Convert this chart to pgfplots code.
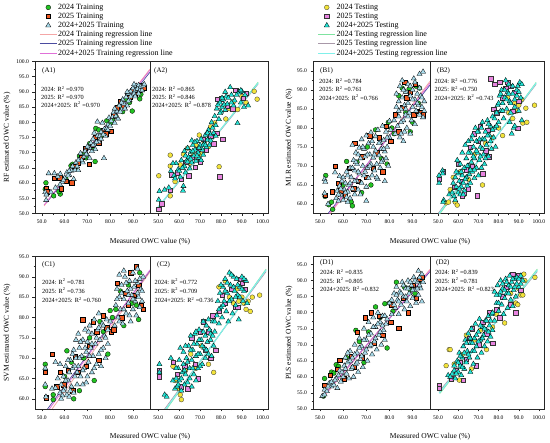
\documentclass[border=0pt]{standalone}
\usepackage{fontspec}
\setmainfont{Liberation Serif}
\usepackage{pgfplots}
\pgfplotsset{compat=1.18}
\definecolor{cG}{HTML}{22C322}
\definecolor{cO}{HTML}{F05A23}
\definecolor{cB}{HTML}{A8DAEA}
\definecolor{cY}{HTML}{F2E33A}
\definecolor{cP}{HTML}{E884E0}
\definecolor{cC}{HTML}{22E2D4}
\definecolor{lTa}{HTML}{F4A6A6}
\definecolor{lTb}{HTML}{4B4BA0}
\definecolor{lTc}{HTML}{E070D8}
\definecolor{lEa}{HTML}{7FE3A0}
\definecolor{lEb}{HTML}{A898A8}
\definecolor{lEc}{HTML}{80F0EA}
\newcommand\rt{\fontsize{6.3}{7}\selectfont}
\newcommand\pl{\fontsize{7}{8}\selectfont}
\newcommand\lb{\fontsize{7.5}{8}\selectfont}
\pgfplotsset{
 half/.style={scale only axis, tick align=outside, xtick pos=left, ytick pos=left,
  major tick length=2.5pt, minor tick length=1.3pt,
  axis line style={line width=0.5pt, black!85}, tick style={black!85, line width=0.4pt},
  tick label style={font=\fontsize{5.6}{6}\selectfont},
  /pgf/number format/fixed, /pgf/number format/fixed zerofill, /pgf/number format/precision=1,
  /pgf/number format/assume math mode=true,
  minor y tick num=1, xticklabel style={yshift=-0.5pt}},
 lhalf/.style={half, xmin=47, xmax=97.5, xtick={50,60,70,80,90}, minor xtick={55,65,75,85,95}},
 rhalf/.style={half, xmin=46, xmax=102.5, xtick={50,60,70,80,90,100}, minor xtick={55,65,75,85,95}, ytick=\empty, minor ytick={}},
 c24/.style={only marks, mark=*, mark size=2.4pt, mark options={fill=cG, draw=black, line width=0.3pt}},
 s25/.style={only marks, mark=square*, mark size=2.2pt, mark options={fill=cO, draw=black, line width=0.3pt}},
 tAll/.style={only marks, mark=triangle*, mark size=3.0pt, mark options={fill=cB, draw=black, line width=0.3pt}},
 c24e/.style={only marks, mark=*, mark size=2.4pt, mark options={fill=cY, draw=black!80, line width=0.3pt}},
 s25e/.style={only marks, mark=square*, mark size=2.2pt, mark options={fill=cP, draw=black!80, line width=0.3pt}},
 tAlle/.style={only marks, mark=triangle*, mark size=3.0pt, mark options={fill=cC, draw=black, line width=0.3pt}},
 la/.style={no marks, lTa, line width=0.8pt},
 lb/.style={no marks, lTb, line width=0.7pt},
 lc/.style={no marks, lTc, line width=0.8pt},
 lea/.style={no marks, lEa, line width=0.8pt},
 leb/.style={no marks, lEb, line width=0.7pt},
 lec/.style={no marks, lEc, line width=1.1pt},
 leg/.style={legend cell align=left, legend style={draw=none, fill=none, anchor=north west,
   font=\fontsize{8}{9}\selectfont, nodes={inner sep=0.8pt}, row sep=0.6pt}},
}
\begin{document}
\begin{tikzpicture}
\path[use as bounding box] (0,0) rectangle (550pt,443pt);
%%%%%%%%%%%%%%%% A1
\begin{axis}[lhalf, leg, legend style={at={(0.01,1.398)}}, at={(35pt,229.5pt)}, anchor=south west, width=115pt, height=152pt,
 ymin=50, ymax=100, ytick={50,55,...,100}]
\addplot[c24] coordinates {(51.8,60.1) (51.5,58.0) (55.2,55.8) (58.1,56.4) (57.5,57.2) (60.5,61.5) (62.8,65.7) (63.5,66.2) (65,64.8) (66.5,68.9) (68,69.5) (69.5,68.3) (71,73) (72.5,71.5) (73.4,67.1) (73.7,78.0) (75,77.5) (76,75.5) (78.5,80.5) (80.3,79.9) (81,80.8) (82.5,82) (84,85.2) (85.5,83.5) (87,87.5) (88.5,86.5) (89.7,83.7) (90.5,90.2) (92,91.2) (93,87.7) (93.5,89.2) (94.5,91.5)};
\addlegendentry{2024 Training}
\addplot[s25] coordinates {(51.9,58.3) (52.3,57.2) (55.5,61.6) (58.6,58.2) (57.8,61.8) (60.5,60.6) (63.1,60.1) (64,65.5) (66,66.5) (67.5,68.5) (69,71.5) (70.8,66.3) (72,72.5) (73.5,75.2) (75,73.3) (77,77.5) (78,76.2) (80.5,77.0) (81.5,82.3) (83,84.8) (84.5,86.8) (86,85.3) (87.5,89) (88.5,88.2) (90,91) (91,89.3) (92.5,90.6) (93.8,92) (95,91.2)};
\addlegendentry{2025 Training}
\addplot[tAll] coordinates {(51.5,57) (51.9,54.4) (52,56.2) (53,63.2) (55.5,63.2) (57,62.2) (58.1,63) (59,60.3) (60,61.8) (61,63.5) (62,62.7) (63,64.1) (64.6,64.3) (65,66.8) (66,64.2) (66.5,67.5) (67,69.8) (68,66.8) (68.5,68.7) (69,70.5) (70,69.3) (70.5,71.8) (71,68.2) (71.5,73.2) (72,70.5) (72.5,74.5) (73,72.8) (73.5,71.1) (74.4,80.2) (74.5,75.6) (75,73.6) (76,76.8) (76.6,79.8) (77.3,68.2) (77.5,77.8) (78,75.5) (79,79.2) (79.5,81.5) (80,78.8) (81,81.7) (81.5,83.3) (82,79.8) (83,83.6) (83.5,81.2) (84,85.5) (85,84.2) (85.5,87.5) (86,86.1) (87,88.3) (87.5,85.5) (88,89.5) (88.5,87.3) (89,90.2) (89.5,88.6) (90,91.2) (90.5,89.5) (91,90.5) (91.5,92) (92,91) (92.5,92.2) (93,90.5) (93.5,91.8) (94.5,92.1) (62,64) (64,61.3)};
\addlegendentry{2024+2025 Training}
\addplot[tAll, forget plot] coordinates {(54,57) (56,58.5) (58,59.5) (59.5,61) (61.5,62.5) (63.5,65.5) (65.5,65.5) (67.5,67.5) (69.5,69.5) (71,71.5) (72.5,72.5) (74,73.5) (75.5,75.5) (77,76) (78.5,78) (80.5,80.5) (82.5,82) (84.5,83.5) (86.5,84.5) (88,87) (89,88.5) (91,88.5) (92.5,89.5) (94,90.5) (95,92.5) (66,67.5) (70,72) (73,76.5) (76,74.5) (79,77.5) (82,84.5) (85,86.5) (87.5,90) (90.5,92.5)};
\addplot[la] coordinates {(51,52.5) (97.5,97.5)};
\addlegendentry{2024 Training regression line}
\addplot[lb] coordinates {(52,53.5) (97.5,96.5)};
\addlegendentry{2025 Training regression line}
\addplot[lc] coordinates {(51,52.8) (97.5,97.2)};
\addlegendentry{2024+2025 Training regression line}
\end{axis}
%%%%%%%%%%%%%%%% A2
\begin{axis}[rhalf, at={(150pt,229.5pt)}, anchor=south west, width=118pt, height=152pt, ymin=50, ymax=100]
\addplot[c24e] coordinates {(50.2,62.4) (55.7,69.2) (55.7,65.6) (55.7,55.8) (58,60.5) (60.5,66) (62,69.5) (64,71.5) (65,66.5) (66.5,70) (68,72.5) (69.6,75.8) (70.5,69.5) (72,73.5) (74,72) (75,78.5) (77,79.8) (79.1,65.4) (82.3,81.1) (84,84.5) (86,86.8) (88,84.2) (90,88.5) (92,86.5) (95.9,90.2) (97.3,87.6)};
\addplot[s25e] coordinates {(50.2,51.5) (51.5,53.2) (55.7,57.6) (56,62.8) (59,63.5) (61,61.2) (63,66.8) (64.5,62.5) (66,68.5) (67.5,65.3) (69,71.2) (70,67) (71.5,74.5) (73,70.8) (75,75.5) (76.5,73) (78,76.5) (79.4,62.1) (80.7,74.4) (78.3,87.7) (80,87.8) (83,85.5) (85.5,84.5) (87,90.5) (89,90.3) (90.5,88) (92,89.5)};
\addplot[tAlle] coordinates {(50.2,54.5) (50.5,57.3) (53,57.8) (55,58.5) (56,64) (57.5,62.5) (58.5,66.5) (59.5,64.5) (60.5,62) (61.8,57.5) (62,59) (61,67.5) (62.5,65.5) (63,69) (63.5,67.3) (64,71.5) (64.5,68.5) (65,64.8) (65.5,70.2) (66,66.8) (66.5,72.5) (67,69) (67.5,71) (68,67.2) (68.5,73.8) (69,70) (69.5,68.3) (70,72.5) (70.5,74.5) (71,71) (71.5,69.3) (72,73) (72.5,75.8) (73,71.8) (73.5,74.2) (74,77.5) (74.5,72.5) (75,76) (75.5,80) (76,78.2) (77,82) (77.5,79) (78,84.5) (78.5,85.8) (79,81) (79.5,86.5) (80,83.5) (80.5,85) (81,87.5) (81.5,85.8) (82,84) (82.5,88.5) (83,86) (84.4,91.5) (85,89) (86,85.5) (86.5,87.2) (87.9,79.7) (88.5,89.8) (89.5,86.5) (91,85) (90,90.2) (93,85.5)};
\addplot[tAlle] coordinates {(60,64) (61.5,65) (63,63.5) (64,67) (65.5,68) (66.5,70.5) (67.5,73.5) (68.5,69) (69.5,71.5) (70.5,67.5) (71.5,72.5) (72.5,72.5) (73.5,76.5) (75,74) (76.5,76.5) (77.5,75.5) (79.5,83) (80.5,88) (82,90) (83.5,88) (85,86.5) (87.5,89) (89.5,90.5) (91.5,89) (66,74) (62.5,70.5) (58,61.5) (57,66.5)};
\addplot[lea] coordinates {(49.5,51.6) (97.8,93.2)};
\addplot[leb] coordinates {(49,51.2) (97.8,92.6)};
\addplot[lec] coordinates {(49,51.4) (97.8,92.9)};
\end{axis}
%%%%%%%%%%%%%%%% B1
\begin{axis}[lhalf, at={(313pt,229.5pt)}, anchor=south west, width=117pt, height=152pt,
 ymin=57.5, ymax=97.5, ytick={60,65,...,95}]
\addplot[c24] coordinates {(52.5,67.5) (52.2,62) (53.8,59.8) (55,60.5) (55.5,58.6) (61.5,71.2) (63.5,60.5) (64,59.5) (60,65) (66,71) (68,63) (70.5,75) (72,65) (74,79.5) (76.5,72) (79,70.5) (79.5,81.5) (81,80) (82,78.5) (84,88.5) (85.5,90.5) (87,84) (88.5,90.3) (89,79) (90,81.5) (91.5,91) (92.5,86.5) (93,90.5)};
\addplot[s25] coordinates {(52.3,62.4) (56.5,70) (55.2,63.3) (58,65.5) (59,63.5) (61,62.5) (62.5,69.5) (64.5,64) (65,76) (66.5,66) (68,72.5) (70,67) (71.5,78) (73,69.5) (74.5,73.5) (75.5,77.5) (77,68.5) (78.5,80.5) (80.5,76.5) (82.5,83.5) (84,79) (85.5,85.5) (86.5,92) (87.5,88) (89,89.5) (90.5,83.5) (91,91.5) (92,84.5) (93.5,84) (94.5,83.5)};
\addplot[tAll] coordinates {(57,61.5) (57.5,63.5) (58,60.8) (58.5,64.8) (59,62.3) (59.5,66) (60,61) (60.5,63.8) (61,65.5) (61.5,61.8) (62,67.5) (62,63.2) (62.5,65) (63,61.5) (63,69.5) (63.5,67) (64,64) (64,75.5) (64.5,71.5) (65,62.5) (65,68.8) (65.5,73.5) (66,66) (66,70.5) (66.5,63.8) (67,74.8) (67,68) (67.5,72) (68,65.5) (68,77) (68.5,70) (69,67.5) (69,74.5) (69.5,72.5) (70,64.5) (70,78) (70.5,69.5) (71,76) (71,66.8) (71.5,73) (72,70.5) (72,78.8) (72.5,67.5) (73,75) (73,72.2) (73.5,68.8) (74,77.8) (74,74) (74.5,70.5) (75,79.5) (75,66.5) (75.5,72.8) (76,76.2) (76,69.5) (76.5,74.5) (77,80.5) (77,71.5) (77.5,76.8) (78,66) (78,73.8) (78.5,79) (79,75) (79.5,70) (80,77.5) (80,81.8) (82,82) (82.5,78.5) (83,85.5) (83,89) (83.5,80.5) (84,87) (84,83) (84.5,91) (85,78.5) (85,85) (85.5,92.5) (85.5,88) (86,82) (86,76.5) (86.5,86) (87,89.5) (87,83.5) (87.5,80) (88,91.5) (88,86.5) (88.5,84) (89,78.5) (89,88.5) (89.5,82) (90,90) (90,85.5) (90.5,93) (91,87.5) (91,81) (91.5,84.5) (92,89) (92.5,86) (93,83.5) (93,94.2) (93.5,88.5) (94,85.5) (94.5,94.8) (94.5,82.8) (95,87) (52,66.5) (52.3,65.8) (52,62.8) (56.5,68.3) (58.5,67.3) (53.5,60)};
\addplot[tAll] coordinates {(58,62.5) (59,64) (60,67) (61,63) (62,60.5) (63,65.5) (64,69.5) (65,66) (65.5,71) (66.5,68.5) (67.5,62.5) (68.5,75) (69.5,68.5) (70.5,73) (71.5,70) (72.5,76.5) (73.5,73) (74.5,67) (75.5,76) (76.5,71) (77.5,74.5) (78.5,72) (79,77.5) (80.5,79.5) (84,84.5) (85,81.5) (86,90) (87,85) (88,83) (89,91) (90,87.5) (91,92) (92,86.5) (93,90.5) (94,88) (95,84.5) (86.5,79) (84.5,77.5) (61.5,68.5) (66.5,73) (70,60.8)};
\addplot[la] coordinates {(54.5,57.5) (97.5,92.3)};
\addplot[lb] coordinates {(53.5,57.5) (97.5,91.3)};
\addplot[lc] coordinates {(54,57.5) (97.5,91.8)};
\end{axis}
%%%%%%%%%%%%%%%% B2
\begin{axis}[rhalf, leg, legend style={at={(-1.013,1.398)}}, at={(430pt,229.5pt)}, anchor=south west, width=114pt, height=152pt, ymin=57.5, ymax=97.5]
\addplot[c24e] coordinates {(54,60.3) (55.2,60.5) (56,63.8) (57.5,67) (58.5,60.5) (59.5,59.7) (61,68.5) (63,62.5) (64.5,69.5) (65,66.5) (68,73) (72,65) (73.5,76) (77,77.5) (80,80) (82,78) (84.5,88) (85,84) (87,82.5) (88,86.5) (89,84.5) (90,86) (91.5,87.5) (92,81.3) (93.5,85.2) (94,81.5) (97.8,86)};
\addlegendentry{2024 Testing}
\addplot[s25e] coordinates {(50.5,66.5) (52.5,68.5) (58,64.5) (60,70.5) (61.5,66) (62,62) (63,62.8) (64,69) (65,64) (66,75) (67,70) (68,78.5) (69.5,62.2) (70,76.5) (71,80.5) (72,68) (73.5,74) (74.5,79.5) (75,72.5) (76,93) (77.5,85) (78,91.5) (79,84) (80.5,92) (82,88) (83.5,90.5) (84.5,92) (86,91) (87,84.5) (88,89.5) (89.5,80) (90,87)};
\addlegendentry{2025 Testing}
\addplot[tAlle] coordinates {(50.5,67.5) (50.5,65.5) (52.2,68.8) (52.3,68) (52.8,61) (52.5,60.5) (55.5,62.5) (57,63) (57.5,65.5) (58,62) (58.5,67) (59,64.5) (59.5,71.5) (60,63) (60,68) (60.5,66) (61,70.5) (61,62.5) (61.5,64.5) (62,67.5) (62,73.5) (62.5,65.5) (63,69.5) (63,63.5) (63.5,75.5) (64,67) (64,72) (64.5,64.8) (65,70) (65,76.5) (65.5,67.8) (66,73.5) (66,65.5) (66.5,71) (67,78) (67,68.5) (67.5,75) (68,66.8) (68,72) (68.5,80) (69,69.5) (69,76.5) (69.5,73.5) (70,67.5) (70,79) (70.5,71.5) (71,75) (71.5,69.5) (72,81.5) (72,77) (72.5,73) (73,70.5) (73.5,79) (74,75.5) (74.5,82) (75,72.5) (75.5,78) (76,80.5) (76.5,74.5) (77,83) (77.5,77.5) (78,80) (78.5,75) (79,84) (79.5,86) (80,81.5) (80.5,88.5) (81,84.5) (81.5,90) (82,86.5) (82.5,82.5) (83,88) (83.5,92.5) (84,85) (84.5,89.5) (85,91.5) (85.5,87) (86,84) (86.5,78.5) (87,89) (87.5,80) (88,85.5) (89,88.5) (89.5,91) (90,84.5) (90.5,92) (91,88) (91.5,82)};
\addlegendentry{2024+2025 Testing}
\addplot[tAlle, forget plot] coordinates {(58.5,61) (59,68.5) (60.5,64) (61.5,68.5) (62.5,62.5) (63.5,66.5) (64.5,70) (65,73.5) (66,69) (66.5,77) (67.5,72.5) (68,69) (69,74) (69.5,79) (70.5,77) (71,72.5) (71.5,80) (72,74.5) (73,77) (73.5,72) (74.5,78) (75,81) (76,76.5) (77,79.5) (78,82.5) (79,80.5) (80,86.5) (81,89) (82,84.5) (83,90) (84,87.5) (85,89) (86,86.5) (87,91) (88,87.5) (89,90) (90,89.5) (91.5,91.5) (88,80.5) (85.5,81.5)};
\addplot[lea] coordinates {(51,57.5) (98.6,92)};
\addlegendentry{2024 Testing regression line}
\addplot[leb] coordinates {(50,57.5) (98.6,91.5)};
\addlegendentry{2025 Testing regression line}
\addplot[lec] coordinates {(50.5,57.5) (98.6,91.8)};
\addlegendentry{2024+2025 Testing regression line}
\end{axis}
%%%%%%%%%%%%%%%% C1
\begin{axis}[lhalf, at={(35pt,34pt)}, anchor=south west, width=115pt, height=152.5pt,
 ymin=57.5, ymax=95, ytick={60,65,...,95}]
\addplot[c24] coordinates {(51.5,68.5) (51.5,63) (55,61) (55,59.8) (61,71.8) (64,60) (60,65.5) (63,69) (66.5,62) (68.5,70) (71,75) (73,64.5) (75.5,79) (77,76.5) (79,71) (80,81.7) (81,80) (82.5,82) (84.5,86.5) (86,78) (88,88) (89.5,83.5) (91.5,83) (93,91) (92.5,79.5)};
\addplot[s25] coordinates {(54.5,71) (51.5,66.5) (58,66.5) (52,60.3) (56.5,63) (59.5,63.5) (61.5,67) (63.5,62) (64.5,70.5) (66,66.5) (68,79.5) (69.5,68) (71,73) (72.5,79) (74,76.5) (75,69.5) (77,80.5) (78.5,77.5) (80.5,76.5) (81.5,77) (83,88.5) (85,80) (86.5,86) (88,83) (89,91) (90.5,85.5) (91.5,92.5) (92.5,88) (93.5,83) (94.5,82)};
\addplot[tAll] coordinates {(51.5,67.5) (51.8,60.5) (56,69) (58,68.5) (51.5,63.5) (57,65) (54.5,62.5) (56,62.7) (58,61.5) (58.5,63.5) (59,60.8) (59.5,65.5) (60,62.5) (60.5,68) (61,61) (61.5,64.5) (62,66.5) (62,60.5) (62.5,69.5) (63,63) (63.5,67.5) (64,61.5) (64,72) (64.5,65.5) (65,70) (65,74.5) (65.5,63.5) (66,68) (66,76) (66.5,72.5) (67,65.5) (67.5,70.5) (68,74.5) (68,63.5) (68.5,67.5) (69,77) (69.5,71.5) (70,65.5) (70,74) (70.5,69) (71,78) (71.5,72.5) (72,66.5) (72,76) (72.5,70.5) (73,79.5) (73.5,73.5) (74,68.5) (74.5,77) (75,71) (75,81) (75.5,74.5) (76,68) (76.5,78.5) (77,72.5) (77.5,75.5) (78,70) (78.5,79.5) (79,73.5) (82,78) (82.5,83) (83,87) (83.5,80) (84,85) (84,90.5) (84.5,82) (85,88) (85.5,78.5) (86,84.5) (86.5,90) (87,81) (87.5,86.5) (88,83.5) (88.5,89) (89,79) (89.5,85.5) (90,82) (90,91) (90.5,87.5) (91,84) (91.5,80.5) (92,88.5) (92,92) (92.5,85) (93,82.5) (93.5,87) (94,84) (94.5,90)};
\addplot[tAll] coordinates {(58.5,60) (59.5,62) (60.5,64.5) (61.5,69.5) (62.5,62) (63.5,71) (64.5,68) (65.5,66.5) (66.5,70) (67,74) (68,67) (69,72.5) (69.5,64) (70.5,76.5) (71,70.5) (72,73.5) (73,67.5) (74,75) (75,77.5) (76,72) (77,78) (78,75) (79,77) (80,79) (83,84.5) (84,79) (85,86) (86,82) (87,88.5) (88,85.5) (89,87) (90,84.5) (91,89) (92,86) (93,89.5) (94,86.5) (86,91.5) (88.5,80.5)};
\addplot[la] coordinates {(54.5,57.5) (97.5,91.2)};
\addplot[lb] coordinates {(52.5,57.5) (97.5,91.5)};
\addplot[lc] coordinates {(53.3,57.5) (97.5,91.7)};
\end{axis}
%%%%%%%%%%%%%%%% C2
\begin{axis}[rhalf, at={(150pt,34pt)}, anchor=south west, width=118pt, height=152.5pt, ymin=57.5, ymax=95]
\addplot[c24e] coordinates {(57,68) (60.5,61) (61,59.8) (60,62.5) (58,64.5) (63,67) (65.5,71) (68,67.5) (70.5,73) (74,68.5) (76.5,66.5) (79,87.5) (82,89) (84,85) (86,83.5) (87.5,87) (88.5,84) (90,85) (91,83.5) (92,82) (94,81.5) (95,85) (98.5,85.5) (93,84)};
\addplot[s25e] coordinates {(50.5,65.5) (50.5,67) (57,69) (59,66) (61,63) (62.5,68) (64,62.5) (66,75) (67.5,68.5) (69,65) (70,76.5) (71.5,79) (72.5,72) (74,76.5) (75,70) (76,80.5) (77.5,72) (79,81.5) (80.5,85.5) (82,83.5) (85,87) (87,82.5) (88,82.5) (89.5,89.5) (90,88.5) (91.5,87)};
\addplot[tAlle] coordinates {(50.5,68.5) (50.5,66.5) (56,70) (57,64.5) (53,61) (54,60.5) (58,62.5) (58.5,65) (59,63) (59.5,67.5) (60,64.5) (60.5,72.5) (61,62) (61.5,66.5) (62,68.5) (62,71.5) (62.5,63.5) (63,66) (63.5,70) (64,64) (64.5,73) (65,67.5) (65.5,75.5) (66,69.5) (66,63) (66.5,72) (67,66) (67.5,76) (68,70.5) (68,64.5) (68.5,73.5) (69,67.5) (69.5,77) (70,71) (70.5,74.5) (71,68.5) (71.5,76.5) (72,72.5) (72.5,70) (73,78) (73.5,74) (74,71) (74.5,77) (75,74.5) (75.5,70.5) (76,79) (76.5,73) (77,76.5) (78,80.5) (78.5,84) (79,78.5) (79.5,86) (80,82.5) (80.5,80) (81,87.5) (81.5,84) (82,89.5) (82.5,81.5) (83,86) (83.5,79) (84,91) (84.5,88) (85,84.5) (85.5,81) (86,90) (86.5,86.5) (87,83) (87.5,89.5) (88,85.5) (88.5,79.5) (89,87.5) (90,90) (90.5,84) (91,86.5) (92,89) (92.5,83.5)};
\addplot[tAlle] coordinates {(58.5,67.5) (59.5,63.5) (60,69.5) (61,65) (62.5,67) (63,73) (64,69) (65,65) (65.5,72) (66.5,67.5) (67,73.5) (68,76.5) (69,71) (69.5,74.5) (70,68) (71,73) (71.5,79) (72.5,75.5) (73,72) (74,79.5) (75,76) (76,75.5) (77,79) (79,82) (80,88) (81,83) (82,86.5) (83,88.5) (84,84) (85,90.5) (86,87.5) (87,85) (88,88) (89,85) (90,87) (91,89.5)};
\addplot[lea] coordinates {(54,57.5) (101.6,91.9)};
\addplot[leb] coordinates {(53,57.5) (101.6,91.3)};
\addplot[lec] coordinates {(53.6,57.5) (101.6,91.7)};
\end{axis}
%%%%%%%%%%%%%%%% D1
\begin{axis}[lhalf, at={(313pt,34pt)}, anchor=south west, width=117pt, height=152.5pt,
 ymin=50, ymax=97.5, ytick={50,55,...,95}]
\addplot[c24] coordinates {(51.5,54) (52,59.5) (55,61.5) (56,61.2) (57,63.8) (58,63.3) (61.5,66) (65.5,74.5) (67,71) (69,64.5) (71,74) (74,81.8) (76,78.5) (78,82.8) (79,69) (80,83) (81.5,80.5) (83,89.5) (86.5,88) (89,87) (91,86) (93,90)};
\addplot[s25] coordinates {(52,57.5) (54.5,60.5) (57.5,62.5) (58.5,65.2) (60.5,59.5) (63.5,66.5) (66,74) (69.5,78.5) (72,80) (73.5,70.5) (75.5,79) (77,73) (80.5,77) (81,82.5) (84,75.2) (86,84.5) (88,80) (90,88.5) (93,90.5) (94,91) (91.5,84.5) (64.5,63) (68,66)};
\addplot[tAll] coordinates {(51,54) (52,56) (53,55.5) (54,58) (55,57) (56,57.5) (57,59.5) (57.5,56.5) (58.5,62) (59,58.5) (60,60) (60.5,63.5) (61,66) (61.5,61) (62,64.5) (62.5,59.5) (63,68) (63.5,62.5) (64,66) (64.5,60) (65,70) (65.5,64) (66,67.5) (66.5,61.5) (67,72) (67.5,65.5) (68,69.5) (68.5,63) (69,75) (69.5,67.5) (70,71.5) (70.5,65) (71,77) (71.5,69.5) (72,73.5) (72.5,67) (73,78.5) (73.5,71) (74,75.5) (74.5,68.5) (75,80) (75.5,73) (76,77) (76.5,70) (77,79) (77.5,74.5) (78,71.5) (78.5,76.5) (80,83) (81,79.5) (82,86) (82.5,81.5) (83,88) (83.5,84) (84,79.5) (84.5,86.5) (85,82.5) (85.5,89.5) (86,85) (86.5,81) (87,87.5) (87.5,83.5) (88,90) (88.5,86) (89,82) (89.5,88.5) (90,84.5) (90.5,91) (91,87) (91.5,83) (92,89.5) (92.5,93) (92.5,85.5) (93,91) (93.5,87.5) (94,83.5) (94.5,89.5)};
\addplot[tAll] coordinates {(52,54.5) (53.5,57) (55,58.5) (56.5,59) (58,60.5) (59.5,61.5) (61,62.5) (62,67.5) (63,65) (64,63) (65,67) (66,64.5) (67,69) (68,66.5) (69,71.5) (70,68.5) (71,73) (72,70) (73,75.5) (74,72) (75,76.5) (76,74) (77,76) (78,79) (79,78) (81,84) (82,82.5) (83,85.5) (84,83.5) (85,86) (86,88.5) (87,85) (88,87.5) (89,89.5) (90,87) (91,90) (92,87.5) (93,88.5) (94,92)};
\addplot[la] coordinates {(51.3,53.5) (97.5,93.5)};
\addplot[lb] coordinates {(51.3,54.1) (97.5,92.8)};
\addplot[lc] coordinates {(51.3,53.8) (97.5,93.2)};
\end{axis}
%%%%%%%%%%%%%%%% D2
\begin{axis}[rhalf, at={(430pt,34pt)}, anchor=south west, width=114pt, height=152.5pt, ymin=50, ymax=97.5]
\addplot[c24e] coordinates {(54,63.5) (55.5,68.5) (56,68.5) (60.5,59) (58,64) (62,67) (64,73) (66.5,62.5) (68,71.5) (71,74.5) (74,68.5) (77,75.5) (79,79.5) (83,76.8) (86,86) (88.5,83) (90,87.5) (91,85.5) (92,85.5) (92.5,92) (98,91) (89.5,82.5) (93,90)};
\addplot[s25e] coordinates {(50.5,57.5) (50.5,56.5) (56.5,59.5) (59,62) (61,64.5) (62.5,59) (64,65.5) (65.5,72) (67,75) (69,63.5) (70.5,70) (72,77) (74,73.5) (75.5,80) (77,70.5) (79,81) (80.5,78.5) (82,85) (84,88) (86,82.5) (87,92) (88.5,80) (90,91.5) (91,87)};
\addplot[tAlle] coordinates {(55,60.5) (57,61) (58,63.5) (58.5,59.5) (59.5,65) (60,61.5) (60.5,67.5) (61,63.5) (61.5,60.5) (62,66) (62.5,69.5) (63,62.5) (63.5,71.5) (64,64.5) (64.5,68) (65,73.5) (65.5,66) (66,61.5) (66,70.5) (66.5,75) (67,68) (67.5,64) (68,72) (68.5,76.5) (69,69.5) (69.5,66) (70,74) (70.5,78) (71,71.5) (71.5,67.5) (72,75.5) (72.5,73) (73,69.5) (73.5,77.5) (74,74.5) (74.5,71) (75,79) (75.5,76) (76,72.5) (76.5,79.5) (77,74.5) (78,77.5) (78,86.5) (79,83) (79.5,88.5) (80,80.5) (80.5,85.5) (81,90) (81.5,82.5) (82,87.5) (82.5,79.5) (83,84.5) (83.5,90.5) (84,86) (84.5,81.5) (85,88.5) (85.5,91.5) (86,84) (86.5,89.5) (87,82) (87.5,87) (88,90.5) (88.5,85) (89,91) (90,88) (91,89)};
\addplot[tAlle] coordinates {(56,60) (58,62) (59,61) (60,64.5) (61,66.5) (62,63) (63,67.5) (64,70.5) (65,67) (66,72) (67,70.5) (68,68) (69,73) (70,71) (71,76) (72,72) (73,75) (74,77.5) (75,74) (76,77.5) (77,80) (79,85.5) (80,83) (81,86.5) (82,89) (83,87) (84,89.5) (85,86) (86,88) (87,90.5) (88,88) (89,89) (90,90.5) (91,91.5) (92,90)};
\addplot[lea] coordinates {(51,54.9) (99.2,93.6)};
\addplot[leb] coordinates {(50.5,55.4) (99.2,92.8)};
\addplot[lec] coordinates {(50.5,54.9) (99.2,93.2)};
\end{axis}
%%%%%%%%%%%%%%%% texts
\node[font=\lb, rotate=90] at (7pt,305.5pt) {RF estimated OWC value (\%)};
\node[font=\lb, rotate=90] at (289pt,305.5pt) {MLR estimated OWC value (\%)};
\node[font=\lb, rotate=90] at (7pt,110.25pt) {SVM estimated OWC value (\%)};
\node[font=\lb, rotate=90] at (289pt,110.25pt) {PLS estimated OWC value (\%)};
\node[font=\lb] at (150pt,201pt) {Measured OWC value (\%)};
\node[font=\lb] at (430pt,201pt) {Measured OWC value (\%)};
\node[font=\lb] at (150pt,6.3pt) {Measured OWC value (\%)};
\node[font=\lb] at (430pt,6.3pt) {Measured OWC value (\%)};
% panel labels
\node[font=\pl, anchor=west, inner sep=0pt] at (42pt,372pt) {(A1)};
\node[font=\pl, anchor=west, inner sep=0pt] at (154pt,372pt) {(A2)};
\node[font=\pl, anchor=west, inner sep=0pt] at (320pt,372pt) {(B1)};
\node[font=\pl, anchor=west, inner sep=0pt] at (437pt,372pt) {(B2)};
\node[font=\pl, anchor=west, inner sep=0pt] at (42pt,178pt) {(C1)};
\node[font=\pl, anchor=west, inner sep=0pt] at (157pt,178pt) {(C2)};
\node[font=\pl, anchor=west, inner sep=0pt] at (320pt,180.3pt) {(D1)};
\node[font=\pl, anchor=west, inner sep=0pt] at (436pt,180.3pt) {(D2)};
% R2 texts
\foreach \x/\ya/\yb/\yc/\ra/\rb/\rc in {
 41/354/346/338.5/0.970/0.970/0.970,
 152/354/346/338.5/0.865/0.846/0.878,
 319/362/353.7/345.3/0.784/0.761/0.766,
 434.5/362/353.7/345.3/0.776/0.750/0.743,
 42/161.3/152.3/143/0.781/0.736/0.760,
 154.5/161.3/152.3/143/0.772/0.709/0.736,
 320/170.7/162.3/153.7/0.835/0.805/0.832,
 435/170.7/162.3/153.7/0.839/0.781/0.823}{
 \node[font=\rt, anchor=west, inner sep=0pt] at (\x pt,\ya pt) {2024: R\textsuperscript{2} =\ra};
 \node[font=\rt, anchor=west, inner sep=0pt] at (\x pt,\yb pt) {2025: R\textsuperscript{2} =\rb};
 \node[font=\rt, anchor=west, inner sep=0pt] at (\x pt,\yc pt) {2024+2025: R\textsuperscript{2} =\rc};
}
\end{tikzpicture}
\end{document}
